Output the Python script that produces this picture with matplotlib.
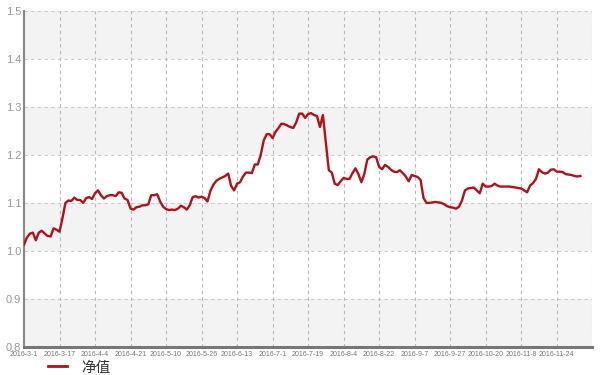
import matplotlib
matplotlib.use("Agg")
import matplotlib.pyplot as plt
from matplotlib.lines import Line2D

# 净值数据（按交易日顺序）
nav = [
    1.013, 1.028, 1.036, 1.038, 1.022, 1.038, 1.042, 1.036, 1.031, 1.030,
    1.047, 1.044, 1.040, 1.068, 1.100, 1.105, 1.104, 1.111, 1.106, 1.106,
    1.100, 1.110, 1.112, 1.108, 1.120, 1.126, 1.116, 1.109, 1.114, 1.116,
    1.116, 1.114, 1.122, 1.121, 1.109, 1.106, 1.088, 1.086, 1.091, 1.092,
    1.095, 1.095, 1.097, 1.116, 1.116, 1.118, 1.103, 1.092, 1.087, 1.085,
    1.086, 1.085, 1.088, 1.094, 1.091, 1.086, 1.095, 1.112, 1.114, 1.111,
    1.113, 1.110, 1.103, 1.125, 1.138, 1.146, 1.150, 1.153, 1.156, 1.161,
    1.135, 1.126, 1.140, 1.143, 1.155, 1.163, 1.163, 1.162, 1.180, 1.180,
    1.200, 1.230, 1.243, 1.243, 1.235, 1.248, 1.256, 1.265, 1.264, 1.261,
    1.258, 1.256, 1.268, 1.286, 1.286, 1.277, 1.285, 1.287, 1.283, 1.281,
    1.258, 1.283, 1.225, 1.168, 1.163, 1.140, 1.137, 1.145, 1.152, 1.150,
    1.150, 1.162, 1.172, 1.160, 1.143, 1.160, 1.190, 1.195, 1.197, 1.195,
    1.175, 1.170, 1.179, 1.175, 1.169, 1.165, 1.164, 1.168, 1.162, 1.155,
    1.145, 1.158, 1.156, 1.154, 1.148, 1.110, 1.100, 1.100, 1.101, 1.102,
    1.101, 1.100, 1.097, 1.093, 1.091, 1.090, 1.088, 1.092, 1.105, 1.126,
    1.130, 1.131, 1.132, 1.126, 1.120, 1.140, 1.134, 1.134, 1.135, 1.140,
    1.136, 1.134, 1.134, 1.134, 1.134, 1.133, 1.132, 1.131, 1.130, 1.126,
    1.122, 1.136, 1.141, 1.150, 1.170, 1.164, 1.161, 1.163, 1.169, 1.170,
    1.165, 1.165, 1.164, 1.160, 1.159, 1.158, 1.156, 1.155, 1.156,
]

date_labels = [
    "2016-3-1", "2016-3-17", "2016-4-4", "2016-4-21", "2016-5-10", "2016-5-26",
    "2016-6-13", "2016-7-1", "2016-7-19", "2016-8-4", "2016-8-22", "2016-9-7",
    "2016-9-27", "2016-10-20", "2016-11-8", "2016-11-24",
]
label_step = 12
y_ticks = [0.8, 0.9, 1.0, 1.1, 1.2, 1.3, 1.4, 1.5]

fig = plt.figure(figsize=(6, 3.75), dpi=100)
ax = fig.add_axes([0.04, 0.075, 0.947, 0.896])

x_max = label_step * len(date_labels)
ax.set_xlim(0, x_max)
ax.set_ylim(0.8, 1.5)

# 交替背景色带
for i in range(len(y_ticks) - 1):
    if i % 2 == 0:
        ax.axhspan(y_ticks[i], y_ticks[i + 1], color="#f3f3f3", zorder=0, lw=0)

# 网格线
for y in y_ticks[1:]:
    ax.axhline(y, color="#cccccc", linestyle=(0, (3, 3)), linewidth=0.8, zorder=1)
for k in range(1, len(date_labels) + 1):
    ax.axvline(k * label_step, color="#b8b8b8", linestyle=(0, (3, 3)), linewidth=0.8, zorder=1)

ax.plot(range(len(nav)), nav, color="#b0121b", linewidth=1.7, zorder=3)

ax.set_xticks([k * label_step for k in range(len(date_labels))])
ax.set_xticklabels(date_labels, fontsize=5, color="#777777",
                   family=["Liberation Sans Narrow", "Liberation Sans"])
ax.set_yticks(y_ticks)
ax.set_yticklabels([f"{v:.1f}" for v in y_ticks], fontsize=8, color="#999999",
                   family=["Liberation Sans", "DejaVu Sans"])
ax.tick_params(axis="x", length=0, pad=3)
ax.tick_params(axis="y", length=0, pad=2)

for side in ["top", "right"]:
    ax.spines[side].set_visible(False)
ax.spines["left"].set_color("#888888")
ax.spines["left"].set_linewidth(1.5)
ax.spines["bottom"].set_color("#777777")
ax.spines["bottom"].set_linewidth(2.2)

handle = Line2D([], [], color="#b0121b", linewidth=2)
leg = fig.legend([handle], ["净值"], loc="center left", bbox_to_anchor=(0.068, 0.02),
                 frameon=False, handlelength=1.3, handletextpad=1.0, borderpad=0,
                 prop={"family": ["Noto Sans CJK SC", "DejaVu Sans"], "size": 10.5})
for t in leg.get_texts():
    t.set_color("#333333")

fig.savefig("out.png", dpi=100)
